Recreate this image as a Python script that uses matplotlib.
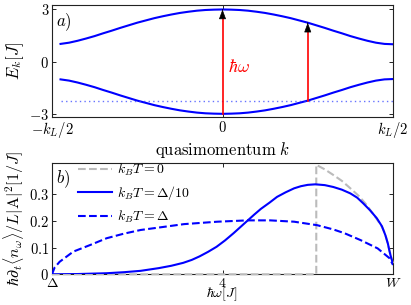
import matplotlib
matplotlib.use("Agg")
import matplotlib.pyplot as plt

plt.rcParams['mathtext.fontset'] = 'cm'
plt.rcParams['font.family'] = ['DejaVu Serif']

# ---- panel a: band structure (k in units of k_L/2) ----
k_vals = [-0.95, -0.90, -0.85, -0.80, -0.75, -0.70, -0.65, -0.60, -0.55, -0.50,
          -0.45, -0.40, -0.35, -0.30, -0.25, -0.20, -0.15, -0.10, -0.05, 0.00,
          0.05, 0.10, 0.15, 0.20, 0.25, 0.30, 0.35, 0.40, 0.45, 0.50,
          0.55, 0.60, 0.65, 0.70, 0.75, 0.80, 0.85, 0.90, 0.95, 1.00]
band_upper = [1.02, 1.09, 1.20, 1.33, 1.47, 1.63, 1.78, 1.94, 2.09, 2.24,
              2.37, 2.50, 2.61, 2.71, 2.80, 2.87, 2.93, 2.97, 2.99, 3.00,
              2.99, 2.97, 2.93, 2.87, 2.80, 2.71, 2.61, 2.50, 2.37, 2.24,
              2.09, 1.94, 1.78, 1.63, 1.47, 1.33, 1.20, 1.09, 1.02, 1.00]
band_lower = [-1.02, -1.09, -1.20, -1.33, -1.47, -1.63, -1.78, -1.94, -2.09, -2.24,
              -2.37, -2.50, -2.61, -2.71, -2.80, -2.87, -2.93, -2.97, -2.99, -3.00,
              -2.99, -2.97, -2.93, -2.87, -2.80, -2.71, -2.61, -2.50, -2.37, -2.24,
              -2.09, -1.94, -1.78, -1.63, -1.47, -1.33, -1.20, -1.09, -1.02, -1.00]
fermi_level = -2.24
arrow_k = [0.0, 0.5]
arrow_from = [-3.00, -2.24]
arrow_to = [3.00, 2.24]

k_ticks = [-1, 0, 1]
k_ticklabels = [r'$-k_L/2$', r'$0$', r'$k_L/2$']
E_ticks = [-3, 0, 3]
E_ticklabels = [r'$-3$', r'$0$', r'$3$']

# ---- panel b: absorption rate ----
w_T0 = [2.0, 5.10, 5.10, 5.20, 5.30, 5.40, 5.50, 5.60, 5.69, 5.79, 5.87, 5.91, 5.96, 6.0]
r_T0 = [0.0, 0.0, 0.410, 0.393, 0.372, 0.350, 0.322, 0.293, 0.260, 0.216, 0.178, 0.150, 0.088, 0.041]

w_T10 = [2.0, 2.3, 2.64, 2.85, 3.04, 3.25, 3.40, 3.54, 3.64, 3.73, 3.83, 3.93, 4.03,
         4.13, 4.21, 4.29, 4.37, 4.45, 4.55, 4.64, 4.74, 4.84, 4.92, 5.0, 5.09, 5.2,
         5.30, 5.40, 5.50, 5.58, 5.65, 5.73, 5.81, 5.87, 5.91, 5.94, 5.96, 5.98, 6.0]
r_T10 = [0.0, 0.001, 0.004, 0.008, 0.013, 0.023, 0.032, 0.043, 0.054, 0.067, 0.084, 0.103, 0.127,
         0.154, 0.177, 0.200, 0.223, 0.245, 0.268, 0.290, 0.307, 0.322, 0.330, 0.335, 0.337, 0.334,
         0.327, 0.317, 0.303, 0.287, 0.266, 0.240, 0.210, 0.180, 0.147, 0.115, 0.085, 0.060, 0.041]

w_T1 = [2.0, 2.03, 2.09, 2.25, 2.45, 2.64, 2.84, 3.04, 3.25, 3.55, 3.94, 4.29,
        4.56, 4.84, 5.11, 5.30, 5.43, 5.62, 5.82, 5.96, 6.0]
r_T1 = [0.0, 0.025, 0.047, 0.085, 0.110, 0.135, 0.152, 0.166, 0.175, 0.188, 0.197, 0.202,
        0.202, 0.197, 0.184, 0.168, 0.154, 0.128, 0.097, 0.060, 0.035]

w_ticks = [2, 4, 6]
w_ticklabels = [r'$\Delta$', r'$4$', r'$W$']
r_ticks = [0, 0.1, 0.2, 0.3]
r_ticklabels = [r'$0$', r'$0.1$', r'$0.2$', r'$0.3$']

labels = [r'$k_BT=0$', r'$k_BT=\Delta/10$', r'$k_BT=\Delta$']

BLUE = '#0000FF'
RED = '#FF0000'
GRAY = '#BBBBBB'

W, H = 411, 305
fig = plt.figure(figsize=(W / 100, H / 100), dpi=100)

left = 52 / W
width = (393 - 52) / W
ax1 = fig.add_axes([left, 1 - 117.3 / H, width, (117.3 - 5.3) / H])
ax2 = fig.add_axes([left, 1 - 274.3 / H, width, (274.3 - 162.7) / H])

# panel a
ax1.plot(k_vals, band_upper, color=BLUE, lw=1.5)
ax1.plot(k_vals, band_lower, color=BLUE, lw=1.5)
ax1.plot([k_vals[0], k_vals[-1]], [fermi_level, fermi_level], color='#3344FF', lw=1.0,
         alpha=0.75, linestyle=(0, (1, 2.3)))
for kk, e0, e1 in zip(arrow_k, arrow_from, arrow_to):
    ax1.plot([kk, kk], [e0, e1 - 0.3], color=RED, lw=1.2)
    ax1.annotate('', xy=(kk, e1), xytext=(kk, e1 - 0.02),
                 arrowprops=dict(arrowstyle='-|>,head_length=0.6,head_width=0.22',
                                 color='black', lw=0.5,
                                 mutation_scale=10, shrinkA=0, shrinkB=0), zorder=5)
ax1.text(0.035, -0.3, r'$\hbar\omega$', color=RED, fontsize=13, ha='left', va='center')
ax1.text(0.012, 0.95, r'$a)$', transform=ax1.transAxes, fontsize=12, ha='left', va='top')
ax1.set_xlim(-1, 1)
ax1.set_ylim(-3.2, 3.24)
ax1.set_xticks(k_ticks)
ax1.set_xticklabels(k_ticklabels)
ax1.set_yticks(E_ticks)
ax1.set_yticklabels(E_ticklabels)
ax1.set_xlabel(r'$\mathrm{quasimomentum}\ k$', fontsize=12, labelpad=0)
ax1.set_ylabel(r'$E_k[J]$', fontsize=12, labelpad=2)

# panel b
ax2.plot(w_T0, r_T0, color=GRAY, lw=1.5, linestyle='--', label=labels[0], clip_on=False, zorder=3)
ax2.plot(w_T10, r_T10, color=BLUE, lw=1.5, label=labels[1], zorder=4)
ax2.plot(w_T1, r_T1, color=BLUE, lw=1.5, linestyle='--', label=labels[2], zorder=4)
ax2.text(0.012, 0.95, r'$b)$', transform=ax2.transAxes, fontsize=12, ha='left', va='top')
ax2.set_xlim(2, 6)
ax2.set_ylim(0, 0.418)
ax2.set_xticks(w_ticks)
ax2.set_xticklabels(w_ticklabels)
ax2.set_yticks(r_ticks)
ax2.set_yticklabels(r_ticklabels)
ax2.set_ylabel(r'$\hbar\partial_t\langle n_\omega\rangle/L|\mathrm{A}|^2[1/J]$', fontsize=11.5, labelpad=2)
leg = ax2.legend(loc='upper left', frameon=False, fontsize=10, handlelength=2.5,
                 bbox_to_anchor=(0.075, 1.01), borderpad=0, borderaxespad=0,
                 labelspacing=0.45, handletextpad=0.35)

for ax in (ax1, ax2):
    ax.tick_params(direction='in', top=True, right=True, length=3, width=0.6,
                   labelsize=10.5, pad=2)
    for s in ax.spines.values():
        s.set_linewidth(0.8)
        s.set_color('#222222')

ax2.tick_params(axis='x', labelsize=10, pad=1.5)
fig.text(222 / W, 1 - 303 / H, r'$\hbar\omega[J]$', fontsize=10, ha='center', va='bottom')

fig.savefig('out.png', dpi=100)
